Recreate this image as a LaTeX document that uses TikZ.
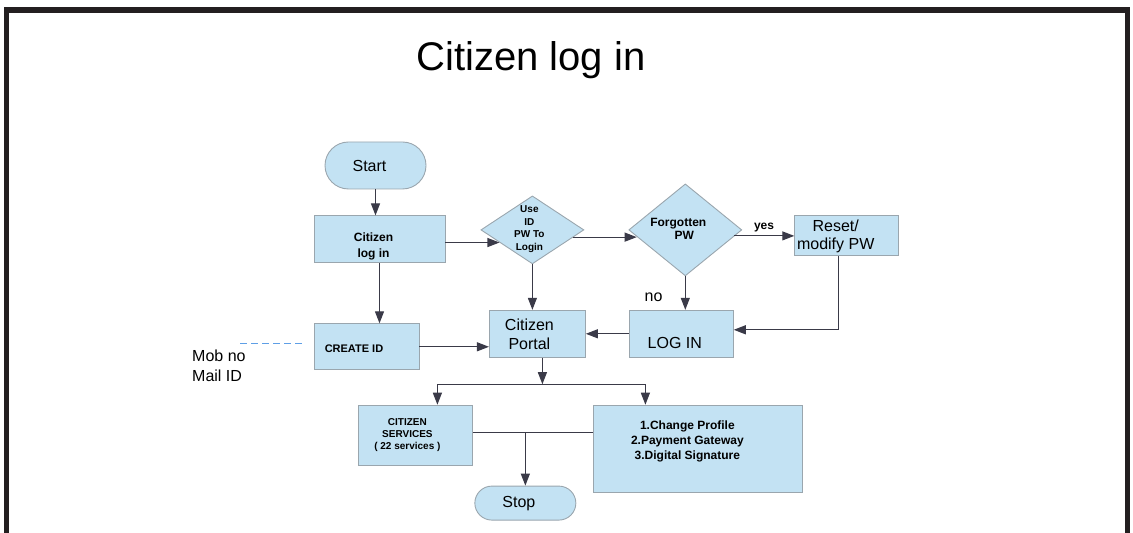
\documentclass[tikz,border=0pt]{standalone}
\usepackage{fontspec}
\setmainfont{Liberation Sans}
\usetikzlibrary{shapes.misc,shapes.geometric,positioning,arrows.meta,calc}
\definecolor{boxfill}{HTML}{C3E2F3}
\definecolor{boxline}{HTML}{9AA6AE}
\definecolor{flowline}{HTML}{3A3A48}
\definecolor{dashblue}{HTML}{5E9FE6}
\definecolor{framecol}{HTML}{231F20}

\begin{document}
\begin{tikzpicture}[x=1pt,y=1pt,>={Triangle[length=12pt,width=9pt]},
	box/.style={draw=boxline,fill=boxfill,line width=0.9pt,inner sep=2pt},
	term/.style={box,rounded rectangle,minimum width=105pt},
	decision/.style={box,diamond,inner sep=0pt},
	txt/.style n args={4}{label={[xshift=#1,yshift=#2,align=center,inner sep=0pt,font=#3]center:{#4}}},
	arr/.style={->,draw=flowline,line width=1.1pt},
	line/.style={draw=flowline,line width=1.1pt}]
	\useasboundingbox (0,0) rectangle (1133,533);
	\draw[framecol,line width=5.5pt] (6.5,-5) -- (6.5,523) -- (1127.5,523) -- (1127.5,-5);
	\node[font=\fontsize{40}{48}\selectfont] (title) at (531,473) {Citizen log in};

	\node[term,minimum height=47pt,txt={-6pt}{0pt}{\fontsize{16}{19}\selectfont}{Start}] (start) at (375.5,367.5) {};
	\node[box,minimum width=131pt,minimum height=47pt,below=26pt of start,xshift=4pt,
		txt={-6pt}{-7pt}{\bfseries\fontsize{12}{16}\selectfont}{Citizen\\ log in}] (login) {};
	\node[decision,aspect=1.5,minimum width=103pt,minimum height=68pt,right=35pt of login,yshift=9.5pt,
		txt={-3pt}{1pt}{\bfseries\fontsize{10}{12.5}\selectfont}{Use\\ID\\PW To\\Login}] (use) {};
	\node[decision,aspect=1.23,minimum width=113pt,minimum height=92pt,right=44pt of use,
		txt={-7pt}{1pt}{\bfseries\fontsize{12}{13}\selectfont}{Forgotten\\\hspace*{12pt}PW}] (forgot) {};
	\node[box,minimum width=104pt,minimum height=40pt,right=52pt of forgot,yshift=-6pt,
		txt={-11pt}{0pt}{\fontsize{16}{18}\selectfont}{Reset/\\modify PW}] (reset) {};
	\node[box,minimum width=104pt,minimum height=47pt,below=33.5pt of forgot,xshift=-4pt,
		txt={-6.5pt}{-9.5pt}{\fontsize{16}{19}\selectfont}{LOG IN}] (logbox) {};
	\node[box,minimum width=96pt,minimum height=47pt,left=43pt of logbox,
		txt={-8pt}{0pt}{\fontsize{16}{19}\selectfont}{Citizen\\Portal}] (portal) {};
	\node[box,minimum width=105pt,minimum height=46pt,below=60pt of login,xshift=-13pt,
		txt={-12.5pt}{-2pt}{\bfseries\fontsize{11}{13}\selectfont}{CREATE ID}] (create) {};
	\node[anchor=north west,inner sep=0pt,align=left,font=\fontsize{16}{20}\selectfont] (mob) at (192,183.5) {Mob no\\Mail ID};

	\coordinate (split) at ([xshift=5pt,yshift=-26.5pt]portal.south);
	\coordinate[left=105pt of split] (splitl);
	\coordinate[right=103pt of split] (splitr);
	\node[box,minimum width=114pt,minimum height=60pt,below=20.5pt of splitl,xshift=-22pt,
		txt={-8pt}{0pt}{\bfseries\fontsize{10}{12}\selectfont}{CITIZEN\\SERVICES\\( 22 services )}] (services) {};
	\node[box,minimum width=209pt,minimum height=87pt,below=20.5pt of splitr,xshift=52.5pt,
		txt={-10.5pt}{7.5pt}{\bfseries\fontsize{12}{15}\selectfont}{1.Change Profile\\2.Payment Gateway\\3.Digital Signature}] (feat) {};
	\node[term,minimum height=34pt,below=20pt of services.south east,xshift=52.5pt,
		txt={-6.5pt}{0pt}{\fontsize{16}{19}\selectfont}{Stop}] (stop) {};
	\coordinate (join) at ([yshift=3pt]services.east);

	\draw[arr] (start) -- (start |- login.north);
	\draw[arr] (login.east |- use.201) -- (use.201);
	\draw[arr] (use.-10) -- (use.-10 -| forgot.188);
	\draw[arr] (forgot.-8 |- reset.west) -- (reset.west) node[midway,above,font=\bfseries\fontsize{12}{14}\selectfont] {yes};
	\draw[arr] (forgot.south) -- (forgot.south |- logbox.north) node[pos=0.62,left=19pt,font=\fontsize{16}{19}\selectfont] {no};
	\draw[arr] ([xshift=-8pt]reset.south) |- ([yshift=4pt]logbox.east);
	\draw[arr] (logbox.west) -- (portal.east);
	\draw[arr] (use.south) -- (use.south |- portal.north);
	\draw[arr] (login.south) -- (login.south |- create.north);
	\draw[arr] (create.east) -- (create.east -| portal.west);
	\draw[dashblue,line width=1.2pt,dash pattern=on 7pt off 4pt] ([xshift=-12pt,yshift=3pt]create.west) -- ++(-65pt,0);
	\draw[arr] (portal.south -| split) -- (split);
	\draw[line] (splitl) -- (splitr);
	\draw[arr] (splitl) -- (splitl |- services.north);
	\draw[arr] (splitr) -- (splitr |- feat.north);
	\draw[line] (join) -- (join -| feat.west);
	\draw[arr] (join -| stop.north) -- (stop.north);
\end{tikzpicture}
\end{document}
